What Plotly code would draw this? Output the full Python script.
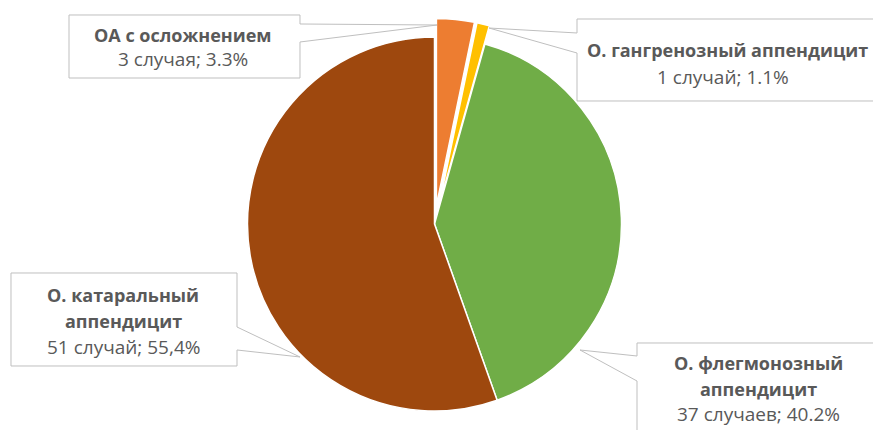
import plotly.graph_objects as go

# ---- data ----
labels = ["ОА с осложнением", "О. гангренозный аппендицит", "О. флегмонозный аппендицит", "О. катаральный аппендицит"]
counts = [3, 1, 37, 51]
count_words = ["случая", "случай", "случаев", "случай"]
percents = ["3.3%", "1.1%", "40.2%", "55,4%"]
colors = ["#ED7D31", "#FFC000", "#70AD47", "#9E480E"]
pulls = [0.1, 0.1, 0, 0]

W, H = 873, 430

def px(x):
    return x / W

def py(y):
    return 1 - y / H

# pie geometry (pixels)
cx, cy, r = 434.5, 224.0, 187.0
R = r * (1 + max(pulls))

fig = go.Figure()
fig.add_trace(go.Pie(
    labels=labels, values=counts, sort=False, direction="clockwise", rotation=0,
    marker=dict(colors=colors, line=dict(color="white", width=1.5)),
    pull=pulls, textinfo="none", hoverinfo="label+value+percent",
    domain=dict(x=[px(cx - R), px(cx + R)], y=[max(0, py(cy + R)), py(cy - R)]),
    showlegend=False,
))

BORDER = "#BFBFBF"
TXT = "#595959"

def callout(x0, y0, x1, y1, side, w1, w2, tip):
    tx, ty = tip
    if side == "right":
        pts = [(x0, y0), (x1, y0), (x1, w1), (tx, ty), (x1, w2), (x1, y1), (x0, y1)]
    else:
        pts = [(x0, y0), (x1, y0), (x1, y1), (x0, y1), (x0, w2), (tx, ty), (x0, w1)]
    path = "M " + " L ".join(f"{px(a):.5f},{py(b):.5f}" for a, b in pts) + " Z"
    fig.add_shape(type="path", path=path, xref="paper", yref="paper",
                  line=dict(color=BORDER, width=1), fillcolor="white", layer="above")

def text(x, y, s, bold=False):
    fig.add_annotation(x=px(x), y=py(y), xref="paper", yref="paper",
                       text=(f"<b>{s}</b>" if bold else s), showarrow=False,
                       xanchor="center", yanchor="middle",
                       font=dict(family="Open Sans", size=18 if bold else 19, color=TXT))

# ОА с осложнением
callout(69, 15, 300, 78, "right", 24, 42, (437, 25))
text(183, 35, labels[0], True)
text(183, 59, f"{counts[0]} {count_words[0]}; {percents[0]}")

# О. гангренозный аппендицит
callout(577, 19, 885, 101, "left", 33, 53, (489, 28))
text(727, 50, labels[1], True)
text(723, 77, f"{counts[1]} {count_words[1]}; {percents[1]}")

# О. катаральный аппендицит
callout(11, 273, 237, 366, "right", 327, 350, (300, 357))
text(123, 295, "О. катаральный", True)
text(123, 321, "аппендицит", True)
text(123, 347, f"{counts[3]} {count_words[3]}; {percents[3]}")

# О. флегмонозный аппендицит
callout(637, 343, 885, 440, "left", 356, 381, (580, 350))
text(758, 363, "О. флегмонозный", True)
text(758, 389, "аппендицит", True)
text(758, 414, f"{counts[2]} {count_words[2]}; {percents[2]}")

fig.update_layout(width=W, height=H, margin=dict(l=0, r=0, t=0, b=0),
                  paper_bgcolor="white", plot_bgcolor="white")
fig.write_html("out.html")
